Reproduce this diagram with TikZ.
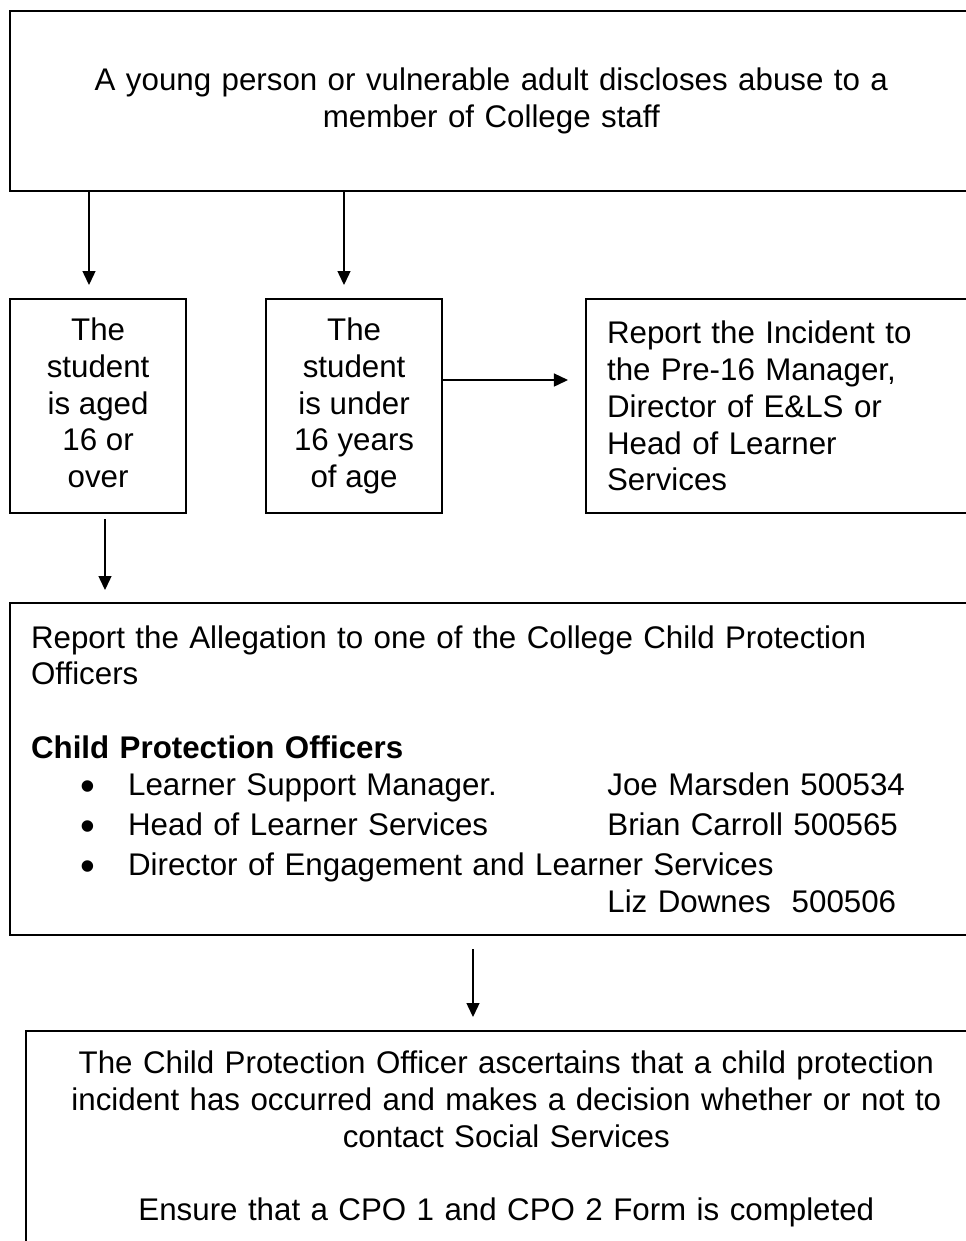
\documentclass[tikz,border=0pt]{standalone}
\usepackage{fontspec}
\setmainfont{Liberation Sans}
\usetikzlibrary{arrows.meta}
\newcommand{\cpobullet}{\hspace*{0.49cm}\makebox[0.48cm][l]{\raisebox{-1.4pt}{\smash{\fontsize{12pt}{12pt}\selectfont\textbullet}}}}
\newcommand{\cpoitem}[2]{\cpobullet\makebox[4.79cm][l]{#1}#2}

\begin{document}
\begin{tikzpicture}[x=0.01cm, y=0.01cm,
  font=\fontsize{8.9pt}{10.45pt}\selectfont,
  box/.style={draw, line width=0.6pt, anchor=north west},
  arr/.style={-{Triangle[length=0.14cm, width=0.13cm]}, line width=0.4pt}]
  \useasboundingbox (0,0) rectangle (966,-1241);
  \node[box, minimum height=1.8cm, text width=9.4cm, inner xsep=0.11cm, align=center] (alert) at (9,-10)
    {A young person or vulnerable adult discloses abuse to a\\ member of College staff};
  \node[box, minimum width=1.76cm, minimum height=2.14cm, align=center] (over16) at (9,-298)
    {The\\ student\\ is aged\\ 16 or\\ over\vphantom{g}};
  \node[box, minimum width=1.76cm, minimum height=2.14cm, align=center] (under16) at (265,-298)
    {The\\ student\\ is under\\ 16 years\\ of age};
  \node[box, minimum height=2.14cm, text width=3.8cm, inner xsep=0.21cm, align=left] (pre16) at (585,-298)
    {Report the Incident to\\ the Pre-16 Manager,\\ Director of E\&LS or\\ Head of Learner\\ Services};
  \node[box, minimum height=3.32cm, text width=9.28cm, inner xsep=0.21cm, align=left] (cpo) at (9,-602)
    {Report the Allegation to one of the College Child Protection\\
     Officers\\[10.45pt]
     \textbf{Child Protection Officers}\\
     \cpoitem{Learner Support Manager.}{Joe Marsden 500534}\\[1pt]
     \cpoitem{Head of Learner Services}{Brian Carroll 500565}\\[1pt]
     \cpobullet Director of Engagement and Learner Services\\
     \hspace*{5.76cm}Liz Downes\ \ 500506};
  \node[box, text width=9.4cm, inner xsep=0.1cm, inner ysep=0.2cm, text depth=2.4cm, align=center] (social) at (25,-1030)
    {The Child Protection Officer ascertains that a child protection\\
     incident has occurred and makes a decision whether or not to\\
     contact Social Services\\[10.45pt]
     Ensure that a CPO 1 and CPO 2 Form is completed};
  \coordinate (t1) at (89,-285);
  \coordinate (t2) at (344,-285);
  \coordinate (t3) at (568,-380);
  \coordinate (t4) at (105,-590);
  \coordinate (t5) at (473,-1017);
  \draw[arr] (alert.south -| t1) -- (t1);
  \draw[arr] (alert.south -| t2) -- (t2);
  \draw[arr] (under16.east |- t3) -- (t3);
  \draw[arr] (over16.south -| t4) ++(0,-5) -- (t4);
  \draw[arr] (cpo.south -| t5) ++(0,-13) -- (t5);
\end{tikzpicture}
\end{document}
